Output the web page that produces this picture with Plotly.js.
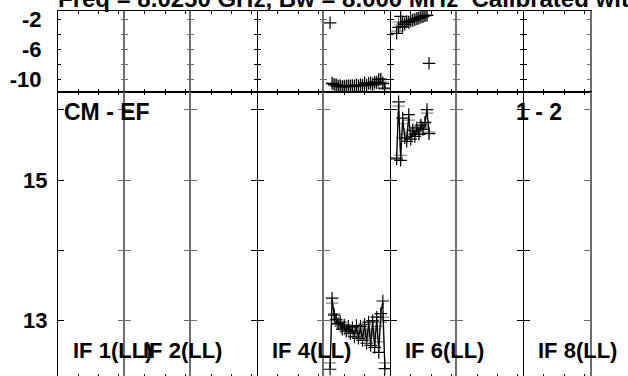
<!DOCTYPE html>
<html><head><meta charset="utf-8">
<script src="https://cdn.plot.ly/plotly-3.0.1.min.js"></script>
<style>html,body{margin:0;padding:0;overflow:hidden;background:#fff}#chart{width:628px;height:378px}</style>
</head><body><div id="chart"></div><script>
// ---- data ----
const titleText = 'Freq = 8.0250 GHz, Bw = 8.000 MHz  Calibrated with CL # 2';
const baselineLabel = 'CM - EF';
const stokesLabel = '1 - 2';
const ifLabels = ['IF 1(LL)', 'IF 2(LL)', 'IF 4(LL)', 'IF 6(LL)', 'IF 8(LL)'];
const phaseTicks = [-2, -4, -6, -8, -10];
const phaseTickText = ['-2', '', '-6', '', '-10'];
const ampTicks = [13, 14, 15, 16];
const ampTickText = ['13', '', '15', ''];
const channelTicks = [10, 20, 30];

// IF 5
const if5PhaseChannels = [4,5,6,7,8,9,10,11,12,13,14,15,16,17,18,19,20,21,22,23,24,25,26,27,28,29,30];
const if5PhaseBlack = [-10.6,-10.7,-10.8,-10.9,-10.95,-11.0,-11.0,-10.95,-10.95,-10.9,-10.95,-10.9,-10.85,-10.9,-10.8,-10.85,-10.5,-10.8,-10.6,-10.5,-10.75,-10.4,-10.5,-10.05,-10.0,-10.6,-11.2];
const if5PhaseGray = [-10.5,-10.9,-10.7,-11.0,-10.85,-11.1,-10.9,-11.05,-10.85,-11.0,-10.8,-11.0,-10.75,-10.95,-10.7,-10.9,-10.65,-10.9,-10.55,-10.8,-10.5,-10.7,-10.3,-10.6,-10.1,-10.4,-11.3];
const if5PhaseOutlierChannels = [3];
const if5PhaseOutliers = [-2.5];
const if5AmpChannels = [3,4,5,6,7,8,9,10,11,12,13,14,15,16,17,18,19,20,21,22,23,24,25,26,27,28,29,30];
const if5AmpBlack = [12.31,13.32,13.08,13.02,12.96,12.98,12.88,12.94,12.85,12.92,12.82,12.90,12.77,12.93,12.75,12.92,12.72,12.95,12.68,12.98,12.65,13.00,12.62,13.05,12.55,13.10,13.28,12.32];
const if5AmpGray = [12.40,13.25,13.10,13.00,12.95,12.92,12.90,12.88,12.87,12.86,12.85,12.84,12.84,12.83,12.83,12.82,12.82,12.82,12.80,12.85,12.78,12.88,12.75,12.92,12.70,12.98,13.05,12.40];

// IF 6
const if6PhaseChannels = [3,4,5,6,7,8,9,10,11,12,13,14,15,16,17,18];
const if6PhaseBlack = [-3.90,-3.10,-1.65,-3.00,-2.70,-2.40,-2.45,-2.25,-2.20,-2.10,-1.95,-1.90,-1.75,-1.70,-1.55,-1.50];
const if6PhaseGray = [-3.60,-2.40,-2.80,-2.60,-2.50,-2.30,-2.35,-2.15,-2.05,-2.00,-1.90,-1.80,-1.70,-1.60,-1.55,-1.45];
const if6PhaseOutlierChannels = [19];
const if6PhaseOutliers = [-7.9];
const if6AmpChannels = [3,4,5,6,7,8,9,10,11,12,13,14,15,16,17,18,19];
const if6AmpBlack = [15.30,16.11,15.28,15.88,15.60,15.55,15.93,15.58,15.70,15.62,15.74,15.65,15.78,15.72,15.82,16.00,15.66];
const if6AmpGray = [15.32,16.05,15.35,15.80,15.65,15.60,15.85,15.62,15.72,15.66,15.74,15.68,15.76,15.74,15.80,15.95,15.68];

// ---- layout geometry / style ----
const W = 628, H = 378, ML = 58, MR = 38, MT = 11, MB = 1;
const plotW = W - ML - MR, plotH = H - MT - MB;
const sepPx = 92;
const sepFrac = (H - MB - sepPx) / plotH;
const FONT = 'Liberation Sans, Arial, Helvetica, sans-serif';
const BLACK_EDGE = {color: '#000', width: 1};
const GRAY_EDGE = {color: '#6e6e6e', width: 1.6};
const colEdge = [BLACK_EDGE, GRAY_EDGE, GRAY_EDGE, BLACK_EDGE, GRAY_EDGE, BLACK_EDGE, GRAY_EDGE, BLACK_EDGE];
const rightEdge = GRAY_EDGE;
const GRAY = '#888888';

function axIds(row, col) {
  const s = row * 8 + col + 1;
  return s === 1 ? ['x', 'y', 'xaxis', 'yaxis'] : ['x' + s, 'y' + s, 'xaxis' + s, 'yaxis' + s];
}
function pxX(px) { return (px - ML) / plotW; }
function pxY(py) { return (H - MB - py) / plotH; }

const layout = {
  width: W, height: H,
  margin: {l: ML, r: MR, t: MT, b: MB, pad: 0},
  showlegend: false,
  paper_bgcolor: '#fff', plot_bgcolor: '#fff',
  annotations: []
};
const traces = [];
let extraAxis = 17;

for (let row = 0; row < 2; row++) {
  const yRange = row === 0 ? [-11.73, -0.93] : [12.2, 16.251];
  const tl = row === 0 ? 3 : 6;
  for (let col = 0; col < 8; col++) {
    const [xi, yi, xk, yk] = axIds(row, col);
    layout[xk] = {
      domain: [col / 8, (col + 1) / 8], anchor: yi,
      range: [0, 32.8], tickvals: channelTicks, showticklabels: false,
      ticks: 'inside', ticklen: 3, tickwidth: 1, tickcolor: '#000',
      showline: true, linecolor: '#000', linewidth: 1, mirror: 'ticks',
      showgrid: false, zeroline: false, fixedrange: true
    };
    const e = colEdge[col];
    layout[yk] = {
      domain: row === 0 ? [sepFrac, 1] : [0, sepFrac], anchor: xi,
      range: yRange,
      tickvals: row === 0 ? phaseTicks : ampTicks,
      ticktext: row === 0 ? phaseTickText : ampTickText,
      showticklabels: col === 0,
      ticks: 'inside', ticklen: tl, tickwidth: 1, tickcolor: e.color,
      showline: true, linecolor: e.color, linewidth: e.width, mirror: false,
      showgrid: false, zeroline: false, fixedrange: true,
      ticklabelstandoff: row === 0 ? 11 : 5,
      tickfont: {family: FONT, size: 22, weight: 'bold', color: '#000'}
    };
    traces.push({x: [null], y: [null], xaxis: xi, yaxis: yi, mode: 'markers', hoverinfo: 'skip'});
    const extra = [];
    if (col > 0) extra.push({side: 'left', ticks: 'outside', showline: false, edge: e});
    if (col === 7) extra.push({side: 'right', ticks: 'inside', showline: true, edge: rightEdge});
    extra.forEach(o => {
      const n = extraAxis++;
      layout['yaxis' + n] = {
        overlaying: yi, anchor: xi, side: o.side, range: yRange,
        tickvals: row === 0 ? phaseTicks : ampTicks, showticklabels: false,
        ticks: o.ticks, ticklen: tl, tickwidth: 1, tickcolor: o.edge.color,
        showline: o.showline, linecolor: o.edge.color, linewidth: o.edge.width,
        showgrid: false, zeroline: false, fixedrange: true
      };
      traces.push({x: [null], y: [null], xaxis: xi, yaxis: 'y' + n, mode: 'markers', hoverinfo: 'skip'});
    });
  }
}

function series(row, col, xs, ys, color, shape, withLine) {
  const [xi, yi] = axIds(row, col);
  return {
    x: xs, y: ys, xaxis: xi, yaxis: yi,
    mode: withLine ? 'lines+markers' : 'markers',
    line: {color: color, width: 1.2, shape: shape},
    marker: {symbol: 'cross-thin', size: 9, line: {color: color, width: 1.2}},
    cliponaxis: true, hoverinfo: 'skip'
  };
}
// gray first, black on top
traces.push(series(0, 4, if5PhaseChannels, if5PhaseGray, GRAY, 'linear', true));
traces.push(series(0, 4, if5PhaseChannels, if5PhaseBlack, '#000', 'hv', true));
traces.push(series(0, 4, if5PhaseOutlierChannels, if5PhaseOutliers, '#000', 'linear', false));
traces.push(series(1, 4, if5AmpChannels, if5AmpGray, GRAY, 'linear', true));
traces.push(series(1, 4, if5AmpChannels, if5AmpBlack, '#000', 'linear', true));
traces.push(series(0, 5, if6PhaseChannels, if6PhaseGray, GRAY, 'linear', true));
traces.push(series(0, 5, if6PhaseChannels, if6PhaseBlack, '#000', 'hv', true));
traces.push(series(0, 5, if6PhaseOutlierChannels, if6PhaseOutliers, '#000', 'linear', false));
traces.push(series(1, 5, if6AmpChannels, if6AmpGray, GRAY, 'linear', true));
traces.push(series(1, 5, if6AmpChannels, if6AmpBlack, '#000', 'linear', true));

function note(text, px, py, size) {
  return {text: text, xref: 'paper', yref: 'paper', x: pxX(px), y: pxY(py),
    xanchor: 'left', yanchor: 'middle', showarrow: false, borderpad: 0,
    font: {family: FONT, size: size, weight: 'bold', color: '#000'}};
}
layout.annotations.push(note(titleText, 57, -2, 24));
layout.annotations.push(note(baselineLabel, 63, 112, 23));
layout.annotations.push(note(stokesLabel, 515, 112, 23));
const ifLabelX = [72, 142, 271, 404, 537];
ifLabels.forEach((t, i) => layout.annotations.push(note(t, ifLabelX[i], 350, 22)));

Plotly.newPlot('chart', traces, layout, {staticPlot: true, displayModeBar: false});
</script></body></html>
